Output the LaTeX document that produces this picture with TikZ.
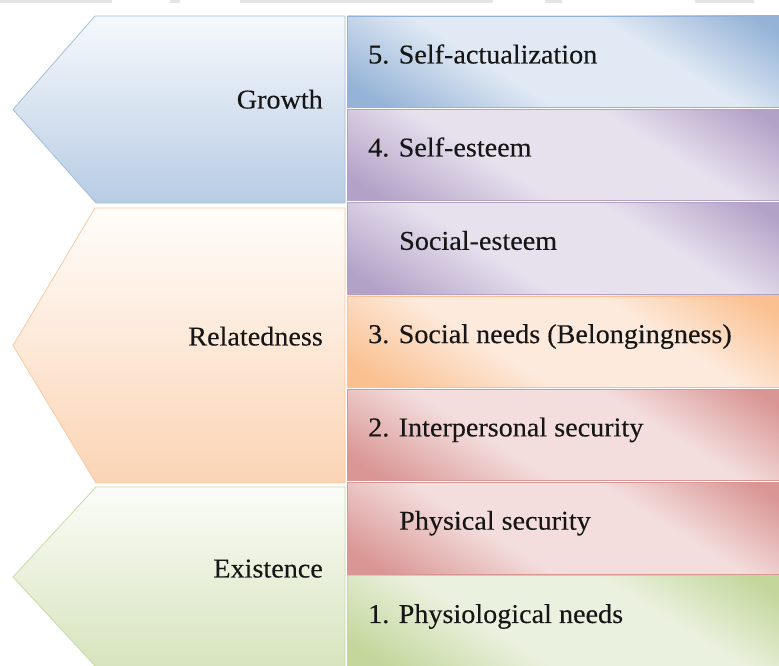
\documentclass[tikz,border=0pt]{standalone}
\usepackage{fontspec}
\setmainfont{Liberation Serif}[FakeStretch=1.035,FakeBold=0.25]

% bar palettes: dark edge tone and light centre tone
\definecolor{bluedark}{HTML}{95B3D7}
\definecolor{bluelight}{HTML}{E0E9F4}
\definecolor{purpledark}{HTML}{B3A2C7}
\definecolor{purplelight}{HTML}{E7E1EE}
\definecolor{orangedark}{HTML}{FAC090}
\definecolor{orangelight}{HTML}{FDEADC}
\definecolor{reddark}{HTML}{D99694}
\definecolor{redlight}{HTML}{F3DEDD}
\definecolor{greendark}{HTML}{C3D69B}
\definecolor{greenlight}{HTML}{EBF1DF}
% chevron palettes
\definecolor{gtop}{HTML}{F6F9FC}
\definecolor{gbot}{HTML}{B8CCE4}
\definecolor{gline}{HTML}{A3BDDB}
\definecolor{rtop}{HTML}{FFFDFB}
\definecolor{rbot}{HTML}{FBD4B4}
\definecolor{rline}{HTML}{F8C8A2}
\definecolor{etop}{HTML}{FBFCF8}
\definecolor{ebot}{HTML}{D7E4BD}
\definecolor{eline}{HTML}{C8DAA6}
\definecolor{ink}{HTML}{161616}
\definecolor{stripgray}{HTML}{E4E4E4}

% diagonal two-tone bands: dark in two opposite corners, light through the middle
\pgfdeclareverticalshading{barblue}{100bp}{color(0bp)=(bluedark); color(20bp)=(bluedark); color(40bp)=(bluelight); color(62bp)=(bluelight); color(80bp)=(bluedark); color(100bp)=(bluedark)}
\pgfdeclareverticalshading{barpurple}{100bp}{color(0bp)=(purpledark); color(20bp)=(purpledark); color(40bp)=(purplelight); color(62bp)=(purplelight); color(80bp)=(purpledark); color(100bp)=(purpledark)}
\pgfdeclareverticalshading{barorange}{100bp}{color(0bp)=(orangedark); color(20bp)=(orangedark); color(40bp)=(orangelight); color(62bp)=(orangelight); color(80bp)=(orangedark); color(100bp)=(orangedark)}
\pgfdeclareverticalshading{barred}{100bp}{color(0bp)=(reddark); color(20bp)=(reddark); color(40bp)=(redlight); color(62bp)=(redlight); color(80bp)=(reddark); color(100bp)=(reddark)}
\pgfdeclareverticalshading{bargreen}{100bp}{color(0bp)=(greendark); color(20bp)=(greendark); color(40bp)=(greenlight); color(62bp)=(greenlight); color(80bp)=(greendark); color(100bp)=(greendark)}

\begin{document}
\begin{tikzpicture}[x=1pt,y=1pt,
  every node/.style={font=\fontsize{27.2}{32}\selectfont, inner sep=0pt, text=ink},
  bar/.style 2 args={shading=#1, shading angle=-32, draw=#2, line width=0.6pt},
  chevron/.style n args={3}{top color=#1, bottom color=#2, draw=#3, line width=0.8pt, line join=miter},
  need/.style={anchor=base west},
  group/.style={anchor=base east}]
\useasboundingbox (0,0) rectangle (779,666);

% faint strip along the top edge
\fill[stripgray] (0,663) rectangle (112,666);
\fill[stripgray] (170,663) rectangle (180,666);
\fill[stripgray] (240,663) rectangle (493,666);
\fill[stripgray] (545,663) rectangle (562,666);
\fill[stripgray] (695,663) rectangle (754,666);

% left chevrons
\path[chevron={gtop}{gbot}{gline}] (95,650) -- (345,650) -- (345,463) -- (96,463) -- (13,556.5) -- cycle;
\path[chevron={rtop}{rbot}{rline}] (95,458) -- (345,458) -- (345,183) -- (96,183) -- (13,320.5) -- cycle;
\path[chevron={etop}{ebot}{eline}] (96,179) -- (345,179) -- (345,-1) -- (96,-1) -- (13,89) -- cycle;

\node[group] (growth) at (323,557.5) {Growth};
\node[group] (relatedness) at (323,320.5) {Relatedness};
\node[group] (existence) at (323,88.5) {Existence};

% right-hand bars
\path[bar={barblue}{bluedark}]     (347.5,650)   rectangle (790,558.6);
\path[bar={barpurple}{purpledark}] (347.5,556.7) rectangle (790,465.3);
\path[bar={barpurple}{purpledark}] (347.5,463.4) rectangle (790,372);
\path[bar={barorange}{orangedark}] (347.5,370.1) rectangle (790,278.7);
\path[bar={barred}{reddark}]       (347.5,276.8) rectangle (790,185.4);
\path[bar={barred}{reddark}]       (347.5,183.5) rectangle (790,92.1);
\path[bar={bargreen}{greendark}]   (347.5,90.2)  rectangle (790,-2);

\node[need] (n5) at (368,602.5) {5. Self-actualization};
\node[need] (n4) at (368,509.5) {4. Self-esteem};
\node[need] (ns) at (399,416.2) {Social-esteem};
\node[need] (n3) at (368,322.9) {3. Social needs (Belongingness)};
\node[need] (n2) at (368,229.6) {2. Interpersonal security};
\node[need] (np) at (399,136.3) {Physical security};
\node[need] (n1) at (368,43) {1. Physiological needs};
\end{tikzpicture}
\end{document}
